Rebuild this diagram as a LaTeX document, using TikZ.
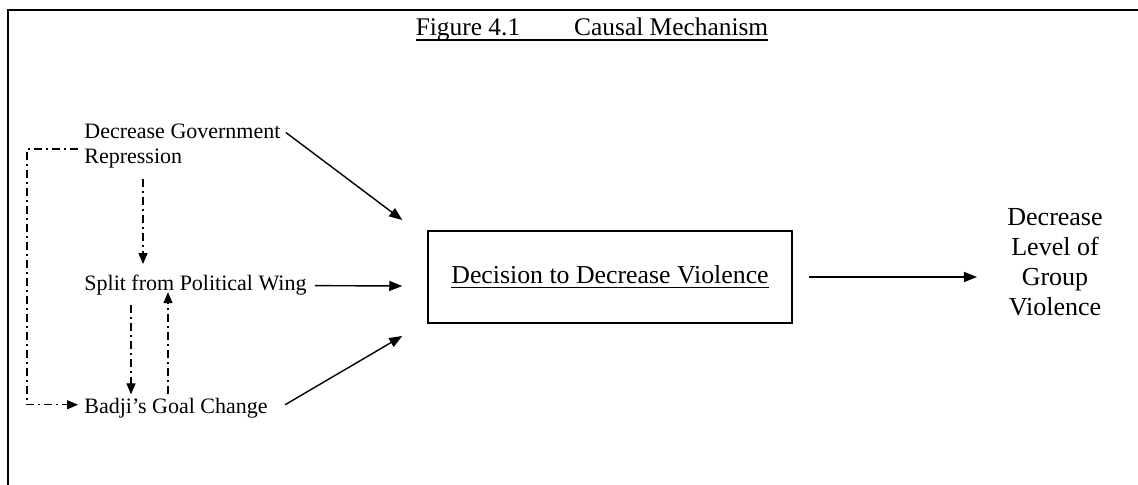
\documentclass[tikz,border=0pt]{standalone}
\usepackage{fontspec}
\setmainfont{Liberation Serif}
\usetikzlibrary{positioning, arrows.meta, calc}

% underline with a heavier rule
\newcommand{\heavyul}[2]{\setbox0\hbox{#2}\rlap{\rule[-2.4pt]{\wd0}{#1}}\box0}

\begin{document}
\begin{tikzpicture}[x=0.5pt, y=-0.5pt,
  lbl/.style={inner sep=0pt, font=\fontsize{11}{12.5}\selectfont},
  arr/.style={-{Triangle[length=6.5pt,width=5pt]}, line width=0.7pt},
  dd/.style={-{Triangle[length=5.5pt,width=4.5pt]}, line width=0.6pt, dash pattern=on 4pt off 2pt on 1pt off 2pt}]
\useasboundingbox (0,0) rectangle (1138,485);
\draw[line width=1pt] (8,485) -- (8,10) -- (1138,10);
\node[inner sep=0pt, font=\fontsize{12.7}{15}\selectfont, anchor=base] (title) at (592,36) {\heavyul{1pt}{Figure 4.1\hspace{27pt}Causal Mechanism}};

% causes on the left
\node[lbl, align=left, anchor=west] (gov) at (84,146) {Decrease Government\\Repression};
\node[lbl, anchor=base west] (split) at (84,291) {Split from Political Wing};
\node[lbl, anchor=base west] (badji) at (84,414) {Badji’s Goal Change};

% decision and outcome
\node[draw, line width=0.75pt, minimum width=182pt, minimum height=46pt, font=\fontsize{12.9}{15}\selectfont] (box) at (610,277) {\heavyul{0.8pt}{Decision to Decrease Violence}};
\node[inner sep=0pt, align=center, font=\fontsize{13}{15}\selectfont] (out) at (1055,262) {Decrease\\Level of\\Group\\Violence};

\draw[arr] ($(gov.north east)+(5,9)$) -- ($(box.west)+(-25,-57)$);
\draw[arr] ($(split.east)+(8,0)$) -- ($(box.west)+(-25,9)$);
\draw[arr] ($(badji.east)+(17,-4)$) -- ($(box.west)+(-25,59)$);
\draw[arr] ($(box.east)+(16,0)$) -- ($(box.east -| out.west)+(-30,0)$);

% dash-dot links among the causes
\draw[dd] ($(gov.south west)+(59,10)$) -- ($(split.north west)+(59,-11)$);
\draw[dd] ($(split.south west)+(47,9)$) -- ($(badji.north west)+(47,-4)$);
\draw[dd] ($(badji.north west)+(84,-4)$) -- ($(split.south west)+(84,-4)$);
\draw[dd] ($(gov.west)+(-6,3)$) -- ++(-51,0) |- ($(badji.west)+(-6,-4)$);
\end{tikzpicture}
\end{document}
